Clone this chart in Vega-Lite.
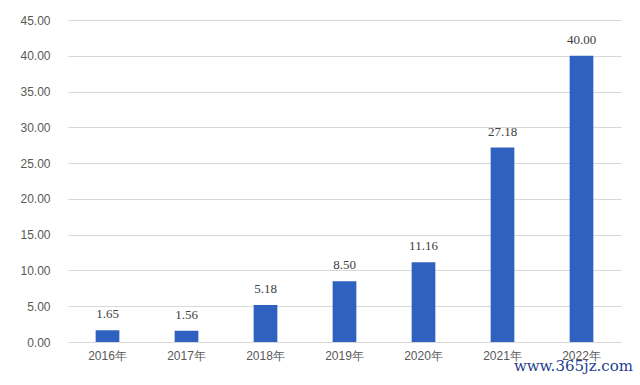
{
  "$schema": "https://vega.github.io/schema/vega-lite/v6.json",
  "width": 553,
  "height": 322,
  "autosize": {"type": "none"},
  "padding": {"left": 68, "top": 20, "right": 19, "bottom": 43},
  "background": "#ffffff",
  "data": {"values": [
    {"year": "2016年", "value": 1.65},
    {"year": "2017年", "value": 1.56},
    {"year": "2018年", "value": 5.18},
    {"year": "2019年", "value": 8.50},
    {"year": "2020年", "value": 11.16},
    {"year": "2021年", "value": 27.18},
    {"year": "2022年", "value": 40.00}
  ]},
  "config": {"view": {"stroke": null}, "font": "Liberation Sans"},
  "title": {"text": "www.365jz.com", "orient": "bottom", "anchor": "end", "color": "#1f3f8f", "fontSize": 15, "font": "DejaVu Serif", "fontWeight": "normal", "offset": -2, "dx": 12},
  "encoding": {
    "x": {"field": "year", "type": "nominal", "sort": null,
      "scale": {"paddingInner": 0.7, "paddingOuter": 0.35},
      "axis": {"title": null, "labelAngle": 0, "ticks": false, "domainColor": "#d9d9d9", "labelColor": "#595959", "labelFontSize": 12, "labelPadding": 8}},
    "y": {"field": "value", "type": "quantitative",
      "scale": {"domain": [0, 45]},
      "axis": {"title": null, "values": [0,5,10,15,20,25,30,35,40,45], "format": ".2f", "domain": false, "ticks": false, "gridColor": "#d9d9d9", "labelColor": "#595959", "labelFontSize": 12, "labelPadding": 18}}
  },
  "layer": [
    {"mark": {"type": "bar", "color": "#2f62c0"}},
    {"mark": {"type": "text", "dy": -16, "color": "#404040", "fontSize": 13, "font": "Liberation Serif"},
     "encoding": {"text": {"field": "value", "type": "quantitative", "format": ".2f"}}}
  ]
}
